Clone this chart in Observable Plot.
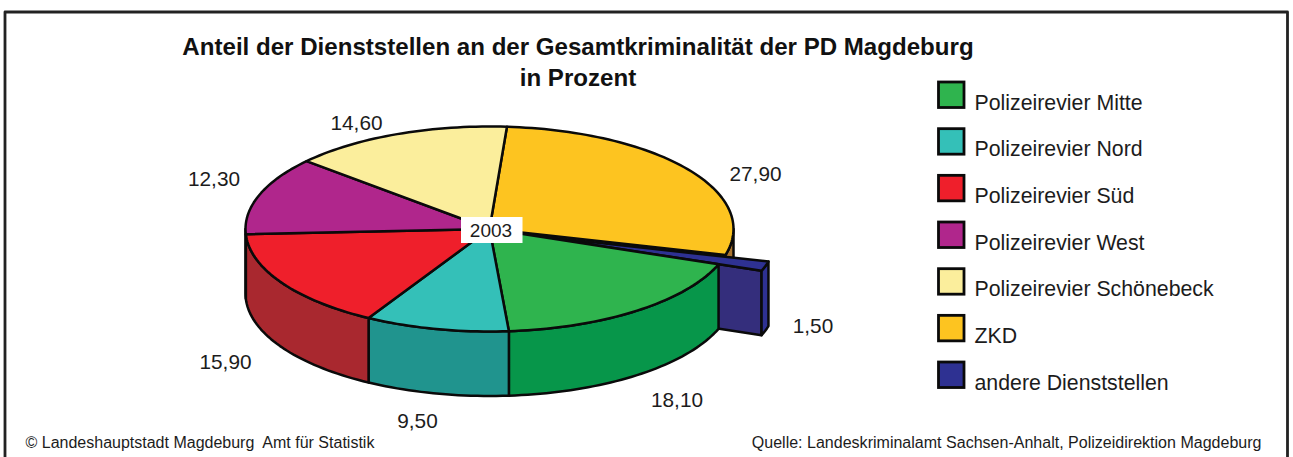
<!DOCTYPE html>
<html>
<head>
<meta charset="utf-8">
<script src="https://cdn.jsdelivr.net/npm/d3@7"></script>
<script src="https://cdn.jsdelivr.net/npm/@observablehq/plot@0.6"></script>
<style>html,body{margin:0;padding:0;background:#fff}svg{display:block}</style>
</head>
<body>
<div id="chart"></div>
<script>
const titleLines = ["Anteil der Dienststellen an der Gesamtkriminalität der PD Magdeburg", "in Prozent"];
const yearLabel = "2003";
const sourceLeft = "© Landeshauptstadt Magdeburg  Amt für Statistik";
const sourceRight = "Quelle: Landeskriminalamt Sachsen-Anhalt, Polizeidirektion Magdeburg";
// Slices in clockwise drawing order from the top of the pie
const sliceNames = ["ZKD", "andere Dienststellen", "Polizeirevier Mitte", "Polizeirevier Nord", "Polizeirevier Süd", "Polizeirevier West", "Polizeirevier Schönebeck"];
const sliceValues = [27.9, 1.5, 18.1, 9.5, 15.9, 12.3, 14.6];
const sliceLabels = ["27,90", "1,50", "18,10", "9,50", "15,90", "12,30", "14,60"];
const legendNames = ["Polizeirevier Mitte", "Polizeirevier Nord", "Polizeirevier Süd", "Polizeirevier West", "Polizeirevier Schönebeck", "ZKD", "andere Dienststellen"];

// Styles and layout
const topColor = {"ZKD":"#fdc420","andere Dienststellen":"#2e3192","Polizeirevier Mitte":"#2fb44e","Polizeirevier Nord":"#34c0b8","Polizeirevier Süd":"#ef1f2b","Polizeirevier West":"#b0268c","Polizeirevier Schönebeck":"#fbee9c"};
const sideColor = {"ZKD":"#a9742f","andere Dienststellen":"#342e7c","Polizeirevier Mitte":"#07964a","Polizeirevier Nord":"#20948e","Polizeirevier Süd":"#a9282f","Polizeirevier West":"#7c1c66","Polizeirevier Schönebeck":"#b5ab6c"};
const labelAt = {"27,90":[755,174],"1,50":[812.5,326],"18,10":[676.5,400],"9,50":[417,421],"15,90":[225,362],"12,30":[213.5,179],"14,60":[356,123]};
const W = 1293, H = 457;
const cx = 489, cy = 228.5, rx = 244, ry = 102.5, depth = 64.5;
const startDeg = 4.1;
const explodedName = "andere Dienststellen";
const explode = [43, 6.5];
const ink = "#0a0a0a", textInk = "#1c1c1c";
const font = "'Liberation Sans', Arial, sans-serif";

// Angles come from the values (the printed shares add up to 99.8)
const total = d3.sum(sliceValues);
let acc = startDeg;
const slices = sliceNames.map((name, i) => {
  const a0 = acc; acc += sliceValues[i] / total * 360;
  const off = name === explodedName ? explode : [0, 0];
  return {name, a0, a1: acc, ox: off[0], oy: off[1]};
});
const rim = (s, deg, dz = 0) => {
  const t = deg * Math.PI / 180;
  return {x: cx + s.ox + rx * Math.sin(t), y: cy + s.oy - ry * Math.cos(t) + dz};
};
const arc = (s, a, b, dz = 0) => {
  const n = Math.max(2, Math.ceil(Math.abs(b - a) / 1.5));
  return d3.range(n + 1).map(i => rim(s, a + (b - a) * i / n, dz));
};
const apex = (s, dz = 0) => ({x: cx + s.ox, y: cy + s.oy + dz});
const topPoly = s => [apex(s), ...arc(s, s.a0, s.a1)];
const wallPoly = s => {
  const a = Math.max(s.a0, 90), b = Math.min(s.a1, 270);
  if (b <= a) return null;
  return [...arc(s, a, b), ...arc(s, b, a, depth)];
};
const radialPoly = (s, deg) => [apex(s), rim(s, deg), rim(s, deg, depth), apex(s, depth)];

const poly = (pts, fill, sw = 2.5) => Plot.line(pts, {x: "x", y: "y", curve: "linear-closed", fill, stroke: ink, strokeWidth: sw, strokeLinejoin: "round"});
const byName = n => slices.find(s => s.name === n);
const marks = [];

// Frame
marks.push(Plot.line([{x:4.5,y:457},{x:4.5,y:11.5},{x:1287,y:11.5},{x:1287,y:457}], {x:"x", y:"y", stroke:"#222", strokeWidth:2.8}));

// Pie, back to front
const ex = byName(explodedName);
const order = ["ZKD", explodedName, "Polizeirevier Mitte", "Polizeirevier Nord", "Polizeirevier Süd", "Polizeirevier West", "Polizeirevier Schönebeck"];
const zkd = wallPoly(byName("ZKD"));
if (zkd) marks.push(poly(zkd, sideColor["ZKD"]));
marks.push(poly(topPoly(byName("ZKD")), topColor["ZKD"]));
marks.push(poly(radialPoly(ex, ex.a1), sideColor[explodedName]));
marks.push(poly(wallPoly(ex), topColor[explodedName]));
marks.push(poly(topPoly(ex), topColor[explodedName]));
for (const name of order.slice(2)) {
  const s = byName(name), w = wallPoly(s);
  if (w) marks.push(poly(w, sideColor[name]));
}
for (const name of order.slice(2)) {
  const s = byName(name);
  marks.push(poly(topPoly(s), topColor[name]));
}

// Year box
marks.push(Plot.rect([yearLabel], {x1: () => 461, x2: () => 522.5, y1: () => 217, y2: () => 243, fill: "#fff", stroke: "none"}));
marks.push(Plot.text([yearLabel], {x: () => 490.5, y: () => 230, text: d => d, fontSize: 19, fontFamily: font, fill: textInk}));

// Value labels
marks.push(Plot.text(sliceLabels, {x: d => labelAt[d][0], y: d => labelAt[d][1], text: d => d, fontSize: 20.8, fontFamily: font, fill: textInk}));

// Legend
const legendRows = legendNames.map((name, i) => ({name, top: 82 + i * 46.67}));
marks.push(Plot.rect(legendRows, {x1: () => 938.5, x2: () => 964, y1: d => d.top, y2: d => d.top + 25.5, fill: d => topColor[d.name], stroke: ink, strokeWidth: 2.8}));
marks.push(Plot.text(legendRows, {x: () => 974, y: d => d.top + 27, text: "name", textAnchor: "start", lineAnchor: "bottom", fontSize: 21.3, fontFamily: font, fill: textInk}));

// Title and sources
marks.push(Plot.text(titleLines, {x: () => 577.5, y: (d, i) => 46.5 + i * 31.5, text: d => d, fontSize: 24.1, fontWeight: "bold", fontFamily: font, fill: "#111"}));
marks.push(Plot.text([sourceLeft], {x: () => 25, y: () => 442.5, text: d => d, textAnchor: "start", fontSize: 16, fontFamily: font, fill: textInk}));
marks.push(Plot.text([sourceRight], {x: () => 1261, y: () => 442.5, text: d => d, textAnchor: "end", fontSize: 16.05, fontFamily: font, fill: textInk}));

const chart = Plot.plot({
  width: W, height: H, margin: 0,
  x: {domain: [0, W], range: [0, W], axis: null},
  y: {domain: [0, H], range: [0, H], axis: null},
  marks
});
document.getElementById("chart").appendChild(chart);
</script>
</body>
</html>
